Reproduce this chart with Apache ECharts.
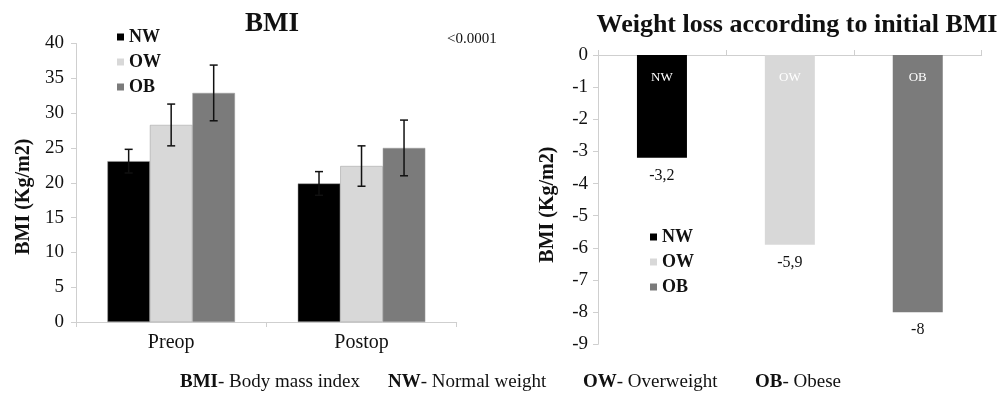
<!DOCTYPE html>
<html lang="en">
<head>
    <meta charset="UTF-8">
    <title>BMI</title>
    <script src="https://cdn.jsdelivr.net/npm/echarts@6/dist/echarts.min.js"></script>
    <style>
        *{margin:0;padding:0;}
        html,body{width:100%;height:100%;background:#fff;}
        #chart{width:1006px;height:396px;}
    </style>
</head>
<body>
    <div id="chart"></div>
    <script>
        // data
        var groups = ['NW', 'OW', 'OB'];
        var periods = ['Preop', 'Postop'];
        var nwBmi = [23.1, 19.9];
        var owBmi = [28.3, 22.4];
        var obBmi = [32.9, 25.0];
        var nwErr = [1.7, 1.7];
        var owErr = [3.0, 2.9];
        var obErr = [4.0, 4.0];
        var weightLoss = [-3.2, -5.9, -8];
        var bmiTicks = [0, 40, 5];     // min, max, step
        var lossTicks = [-9, 0, 1];

        var colors = ['#000000', '#d8d8d8', '#7b7b7b'];
        var serif = '"Liberation Serif", "DejaVu Serif", serif';
        var axisGrey = '#cfcfcf';

        var means = [nwBmi, owBmi, obBmi];
        var errs = [nwErr, owErr, obErr];
        var groupFrac = 0.67;

        var errData = [];
        for (var k = 0; k < 3; k++) {
            for (var i = 0; i < periods.length; i++) {
                errData.push([i, means[k][i] - errs[k][i], means[k][i] + errs[k][i], k]);
            }
        }

        var series = [];
        groups.forEach(function (g, k) {
            series.push({
                name: g, type: 'bar', xAxisIndex: 0, yAxisIndex: 0,
                data: means[k], barGap: 0, barCategoryGap: '33%',
                itemStyle: {color: colors[k], borderColor: '#9a9a9a', borderWidth: 0.5},
                z: 2
            });
        });
        series.push({
            type: 'custom', xAxisIndex: 0, yAxisIndex: 0, z: 5,
            data: errData,
            encode: {x: 0, y: [1, 2]},
            renderItem: function (params, api) {
                var c = api.value(0), k = api.value(3);
                var band = api.size([1, 0])[0];
                var bw = band * groupFrac / 3;
                var x = api.coord([c, 0])[0] + (k - 1) * bw;
                var y1 = api.coord([c, api.value(1)])[1];
                var y2 = api.coord([c, api.value(2)])[1];
                var st = {stroke: '#111', lineWidth: 1.5};
                return {type: 'group', children: [
                    {type: 'line', shape: {x1: x, y1: y1, x2: x, y2: y2}, style: st},
                    {type: 'line', shape: {x1: x - 4, y1: y1, x2: x + 4, y2: y1}, style: st},
                    {type: 'line', shape: {x1: x - 4, y1: y2, x2: x + 4, y2: y2}, style: st}
                ]};
            }
        });

        groups.forEach(function (g, k) {
            var d = groups.map(function (_, j) { return j === k ? weightLoss[j] : '-'; });
            series.push({
                name: g, type: 'bar', xAxisIndex: 1, yAxisIndex: 1,
                data: d, barWidth: 50, barGap: '-100%',
                itemStyle: {color: colors[k]},
                label: {
                    show: true, position: 'insideTop', distance: 16,
                    formatter: g, color: '#fff', fontFamily: serif, fontSize: 13
                }
            });
        });
        // transparent overlay carrying the value labels under each bar
        series.push({
            name: 'loss', type: 'bar', xAxisIndex: 1, yAxisIndex: 1,
            data: weightLoss, barWidth: 50, barGap: '-100%',
            itemStyle: {color: 'rgba(0,0,0,0)'},
            label: {
                show: true, position: 'bottom', distance: 10,
                color: '#111', fontFamily: serif, fontSize: 16,
                formatter: function (p) { return String(p.value).replace('.', ','); }
            }
        });

        var legendStyle = {
            orient: 'vertical', icon: 'rect', itemWidth: 7, itemHeight: 7, itemGap: 7,
            data: groups,
            itemStyle: {borderWidth: 0},
            textStyle: {fontFamily: serif, fontWeight: 'bold', fontSize: 18, lineHeight: 18, color: '#111'}
        };

        var footRich = {b: {fontWeight: 'bold', fontFamily: serif, fontSize: 19}};
        function foot(x, bold, rest) {
            return {type: 'text', left: x, top: 373,
                style: {text: '{b|' + bold + '}' + rest, rich: footRich, font: '19px ' + serif, fill: '#111'}};
        }

        var myChart = echarts.init(document.getElementById('chart'));
        var option = {
            animation: false,
            title: [
                {text: 'BMI', left: 267, top: 6, textAlign: 'center',
                 textStyle: {fontFamily: serif, fontWeight: 'bold', fontSize: 27, color: '#111'}},
                {text: 'Weight loss according to initial BMI', left: 792, top: 7, textAlign: 'center',
                 textStyle: {fontFamily: serif, fontWeight: 'bold', fontSize: 26, color: '#111'}}
            ],
            legend: [
                Object.assign({left: 112, top: 23}, legendStyle),
                Object.assign({left: 645, top: 223}, legendStyle)
            ],
            grid: [
                {left: 76, top: 43.5, width: 380.7, height: 278.5},
                {left: 598, top: 55, width: 383.7, height: 289.3}
            ],
            xAxis: [
                {
                    type: 'category', gridIndex: 0, data: periods,
                    axisLine: {lineStyle: {color: axisGrey}},
                    axisTick: {show: true, length: 5, lineStyle: {color: axisGrey}},
                    axisLabel: {fontFamily: serif, fontSize: 20, color: '#111', margin: 11}
                },
                {
                    type: 'category', gridIndex: 1, data: groups, position: 'top',
                    axisLine: {onZero: false, lineStyle: {color: axisGrey}},
                    axisTick: {show: true, length: 5, lineStyle: {color: axisGrey}},
                    axisLabel: {show: false}
                }
            ],
            yAxis: [
                {
                    type: 'value', gridIndex: 0, min: bmiTicks[0], max: bmiTicks[1], interval: bmiTicks[2],
                    name: 'BMI (Kg/m2)', nameLocation: 'middle', nameGap: 42,
                    nameTextStyle: {fontFamily: serif, fontWeight: 'bold', fontSize: 20, color: '#111', padding: [0, 28, 0, 0]},
                    axisLine: {show: true, lineStyle: {color: axisGrey}},
                    axisTick: {show: true, length: 5, lineStyle: {color: axisGrey}},
                    splitLine: {show: false},
                    axisLabel: {fontFamily: serif, fontSize: 19, color: '#111', margin: 12}
                },
                {
                    type: 'value', gridIndex: 1, min: lossTicks[0], max: lossTicks[1], interval: lossTicks[2],
                    name: 'BMI (Kg/m2)', nameLocation: 'middle', nameGap: 40,
                    nameTextStyle: {fontFamily: serif, fontWeight: 'bold', fontSize: 20, color: '#111', padding: [0, 10, 0, 0]},
                    axisLine: {show: true, lineStyle: {color: axisGrey}},
                    axisTick: {show: true, length: 5, lineStyle: {color: axisGrey}},
                    splitLine: {show: false},
                    axisLabel: {fontFamily: serif, fontSize: 19, color: '#111', margin: 10}
                }
            ],
            graphic: [
                {type: 'text', left: 447, top: 32,
                 style: {text: '<0.0001', font: '15px ' + serif, fill: '#111'}},
                foot(180, 'BMI', '- Body mass index'),
                foot(388, 'NW', '- Normal weight'),
                foot(583, 'OW', '- Overweight'),
                foot(755, 'OB', '- Obese')
            ],
            series: series
        };
        myChart.setOption(option);
        window.onresize = myChart.resize;
    </script>
</body>
</html>
